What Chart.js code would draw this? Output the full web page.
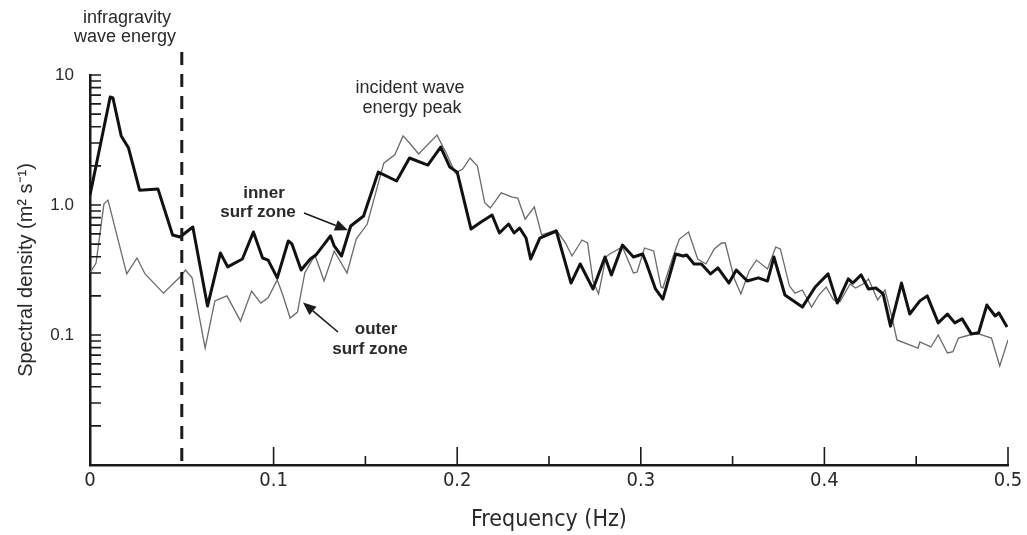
<!DOCTYPE html>
<html>
<head>
<meta charset="utf-8">
<script src="https://cdn.jsdelivr.net/npm/chart.js@4.4.1/dist/chart.umd.min.js"></script>
<style>
html,body{margin:0;padding:0;background:#fff;}
</style>
</head>
<body>
<canvas id="spectra" width="1027" height="535"></canvas>
<script>
// inner surf zone (thick line)
const innerFreq = [0, 0.011, 0.0125, 0.017, 0.021, 0.027, 0.037, 0.045, 0.049, 0.056, 0.064, 0.071, 0.075, 0.083, 0.089, 0.094, 0.097, 0.102, 0.108, 0.110, 0.115, 0.120, 0.123, 0.131, 0.133, 0.137, 0.142, 0.149, 0.157, 0.167, 0.174, 0.184, 0.191, 0.196, 0.200, 0.2075, 0.213, 0.219, 0.223, 0.228, 0.231, 0.234, 0.2375, 0.240, 0.245, 0.254, 0.262, 0.267, 0.274, 0.2805, 0.284, 0.290, 0.296, 0.301, 0.303, 0.308, 0.312, 0.319, 0.323, 0.325, 0.329, 0.333, 0.338, 0.342, 0.348, 0.352, 0.358, 0.364, 0.369, 0.3725, 0.3785, 0.388, 0.395, 0.402, 0.407, 0.413, 0.4155, 0.420, 0.424, 0.428, 0.432, 0.436, 0.442, 0.4465, 0.452, 0.456, 0.462, 0.467, 0.471, 0.475, 0.480, 0.484, 0.4885, 0.493, 0.495, 0.4995];
const innerDensity = [1.19, 6.77, 6.65, 3.40, 2.74, 1.30, 1.33, 0.588, 0.567, 0.677, 0.167, 0.427, 0.334, 0.384, 0.620, 0.391, 0.377, 0.275, 0.529, 0.501, 0.316, 0.384, 0.412, 0.578, 0.484, 0.405, 0.689, 0.823, 1.79, 1.53, 2.30, 2.03, 2.79, 1.96, 1.79, 0.654, 0.740, 0.838, 0.609, 0.714, 0.609, 0.665, 0.557, 0.384, 0.557, 0.631, 0.251, 0.352, 0.226, 0.398, 0.290, 0.492, 0.398, 0.420, 0.358, 0.226, 0.189, 0.420, 0.405, 0.412, 0.352, 0.352, 0.295, 0.328, 0.251, 0.316, 0.260, 0.275, 0.260, 0.398, 0.203, 0.164, 0.234, 0.295, 0.176, 0.270, 0.251, 0.290, 0.226, 0.230, 0.207, 0.117, 0.251, 0.145, 0.183, 0.200, 0.124, 0.145, 0.124, 0.133, 0.102, 0.104, 0.170, 0.140, 0.148, 0.115];

// outer surf zone (thin line)
const outerFreq = [0, 0.0033, 0.0076, 0.0098, 0.020, 0.0256, 0.030, 0.040, 0.049, 0.052, 0.0556, 0.0627, 0.068, 0.0746, 0.082, 0.088, 0.093, 0.097, 0.102, 0.105, 0.109, 0.113, 0.117, 0.1225, 0.1275, 0.133, 0.140, 0.145, 0.151, 0.160, 0.166, 0.1705, 0.174, 0.179, 0.189, 0.194, 0.199, 0.203, 0.207, 0.211, 0.215, 0.218, 0.224, 0.230, 0.233, 0.237, 0.242, 0.246, 0.254, 0.259, 0.2625, 0.268, 0.271, 0.274, 0.277, 0.281, 0.283, 0.290, 0.296, 0.298, 0.302, 0.307, 0.311, 0.312, 0.3175, 0.321, 0.326, 0.331, 0.3355, 0.340, 0.344, 0.346, 0.351, 0.3545, 0.359, 0.363, 0.369, 0.3735, 0.376, 0.381, 0.384, 0.388, 0.393, 0.397, 0.401, 0.405, 0.4085, 0.414, 0.417, 0.422, 0.424, 0.429, 0.433, 0.437, 0.4395, 0.451, 0.452, 0.458, 0.462, 0.467, 0.470, 0.473, 0.479, 0.484, 0.491, 0.4955, 0.5];
const outerDensity = [0.300, 0.358, 1.02, 1.09, 0.295, 0.391, 0.295, 0.210, 0.279, 0.316, 0.275, 0.0794, 0.183, 0.200, 0.128, 0.218, 0.176, 0.193, 0.265, 0.203, 0.135, 0.150, 0.300, 0.412, 0.260, 0.443, 0.300, 0.547, 0.714, 2.10, 2.43, 3.40, 3.00, 2.47, 3.45, 2.51, 1.76, 1.89, 2.30, 1.99, 1.04, 0.948, 1.24, 1.15, 1.13, 0.780, 0.965, 0.588, 0.642, 0.510, 0.405, 0.538, 0.510, 0.260, 0.207, 0.398, 0.420, 0.475, 0.300, 0.305, 0.467, 0.443, 0.234, 0.230, 0.398, 0.547, 0.620, 0.384, 0.352, 0.459, 0.510, 0.510, 0.270, 0.207, 0.311, 0.377, 0.322, 0.475, 0.459, 0.238, 0.210, 0.222, 0.164, 0.203, 0.234, 0.186, 0.180, 0.247, 0.230, 0.251, 0.270, 0.186, 0.222, 0.133, 0.0916, 0.0794, 0.0884, 0.0809, 0.100, 0.0727, 0.0744, 0.0948, 0.100, 0.102, 0.0948, 0.0578, 0.0916];

const freqTicks = [0, 0.1, 0.2, 0.3, 0.4, 0.5];
const freqMinorTicks = [0.15, 0.25, 0.35, 0.45];
const densityTicks = [0.1, 1, 10];
const densityMinorTicks = [0.02, 0.03, 0.04, 0.05, 0.06, 0.07, 0.08, 0.09, 0.2, 0.3, 0.4, 0.5, 0.6, 0.7, 0.8, 0.9, 2, 3, 4, 5, 6, 7, 8, 9];
const igCutoff = 0.05;

const ink = '#1b1b1b';
const textCol = '#2a2a2a';
const narrow = '"DejaVu Sans Condensed", "Liberation Sans", sans-serif';
const sans = '"Liberation Sans", Arial, sans-serif';

// inward tick marks, dashed cutoff line, labels and arrows
const decor = {
    id: 'decor',
    afterDraw(chart) {
        const ctx = chart.ctx;
        const xs = chart.scales.x, ys = chart.scales.y;
        const area = chart.chartArea;
        ctx.save();
        ctx.strokeStyle = ink;
        ctx.lineWidth = 1.6;
        ctx.beginPath();
        freqTicks.slice(1).forEach(v => {
            const px = xs.getPixelForValue(v);
            ctx.moveTo(px, area.bottom); ctx.lineTo(px, area.bottom - 18);
        });
        freqMinorTicks.forEach(v => {
            const px = xs.getPixelForValue(v);
            ctx.moveTo(px, area.bottom); ctx.lineTo(px, area.bottom - 9);
        });
        densityTicks.concat(densityMinorTicks).forEach(v => {
            const py = ys.getPixelForValue(v);
            ctx.moveTo(area.left, py); ctx.lineTo(area.left + 11, py);
        });
        ctx.stroke();

        // infragravity cutoff
        const cx = xs.getPixelForValue(igCutoff);
        ctx.setLineDash([13, 9]);
        ctx.lineWidth = 3;
        ctx.beginPath();
        ctx.moveTo(cx, 52); ctx.lineTo(cx, area.bottom);
        ctx.stroke();
        ctx.setLineDash([]);

        ctx.fillStyle = textCol;
        ctx.textAlign = 'center';
        ctx.textBaseline = 'middle';
        ctx.font = '18px ' + sans;
        ctx.fillText('infragravity', 127, 18);
        ctx.fillText('wave energy', 125, 37);
        ctx.fillText('incident wave', 410, 88);
        ctx.fillText('energy peak', 412, 108);

        ctx.font = 'bold 17px ' + sans;
        ctx.fillText('inner', 264, 193);
        ctx.fillText('surf zone', 258, 212);
        ctx.fillText('outer', 376, 329);
        ctx.fillText('surf zone', 370, 349);

        arrow(ctx, 304, 213, xs.getPixelForValue(0.1405), ys.getPixelForValue(0.64));
        arrow(ctx, 338, 332, xs.getPixelForValue(0.116), ys.getPixelForValue(0.178));
        ctx.restore();
    }
};

function arrow(ctx, x0, y0, x1, y1) {
    const a = Math.atan2(y1 - y0, x1 - x0);
    const len = 13, w = 5.5;
    ctx.strokeStyle = ink;
    ctx.fillStyle = ink;
    ctx.lineWidth = 1.6;
    ctx.beginPath();
    ctx.moveTo(x0, y0);
    ctx.lineTo(x1 - Math.cos(a) * len, y1 - Math.sin(a) * len);
    ctx.stroke();
    ctx.beginPath();
    ctx.moveTo(x1, y1);
    ctx.lineTo(x1 - Math.cos(a) * len + Math.sin(a) * w, y1 - Math.sin(a) * len - Math.cos(a) * w);
    ctx.lineTo(x1 - Math.cos(a) * len - Math.sin(a) * w, y1 - Math.sin(a) * len + Math.cos(a) * w);
    ctx.closePath();
    ctx.fill();
}

const innerPts = innerFreq.map((f, i) => ({x: f, y: innerDensity[i]}));
const outerPts = outerFreq.map((f, i) => ({x: f, y: outerDensity[i]}));

new Chart(document.getElementById('spectra'), {
    type: 'line',
    data: {
        datasets: [
            {label: 'inner surf zone', data: innerPts, borderColor: '#111', borderWidth: 3, pointRadius: 0, tension: 0, borderJoinStyle: 'round'},
            {label: 'outer surf zone', data: outerPts, borderColor: '#6a6a6a', borderWidth: 1.3, pointRadius: 0, tension: 0}
        ]
    },
    plugins: [decor],
    options: {
        responsive: false,
        animation: false,
        devicePixelRatio: 1,
        layout: {padding: {top: 75, right: 19, left: 0, bottom: 0}},
        plugins: {legend: {display: false}, tooltip: {enabled: false}},
        scales: {
            x: {
                type: 'linear', min: 0, max: 0.5,
                grid: {display: false, drawTicks: false},
                border: {display: true, color: ink, width: 2.5},
                afterBuildTicks: s => { s.ticks = freqTicks.map(v => ({value: v})); },
                afterFit: s => { s.height = 70; },
                ticks: {
                    padding: 4, color: textCol, maxRotation: 0,
                    font: {family: narrow, size: 20},
                    callback: v => v === 0 ? '0' : v.toFixed(1)
                },
                title: {display: true, text: 'Frequency (Hz)', color: textCol, font: {family: narrow, size: 23}, padding: {top: 0, bottom: 1}}
            },
            y: {
                type: 'logarithmic', min: 0.01, max: 10,
                grid: {display: false, drawTicks: false},
                border: {display: true, color: ink, width: 2.5},
                afterBuildTicks: s => { s.ticks = densityTicks.map(v => ({value: v})); },
                afterFit: s => { s.width = 90; },
                ticks: {
                    padding: 16, color: textCol,
                    font: {family: sans, size: 17},
                    callback: v => v === 1 ? '1.0' : String(v)
                },
                title: {display: true, text: 'Spectral density (m² s⁻¹)', color: textCol, font: {family: sans, size: 20}, padding: {top: 14, bottom: 0}}
            }
        }
    }
});
</script>
</body>
</html>
